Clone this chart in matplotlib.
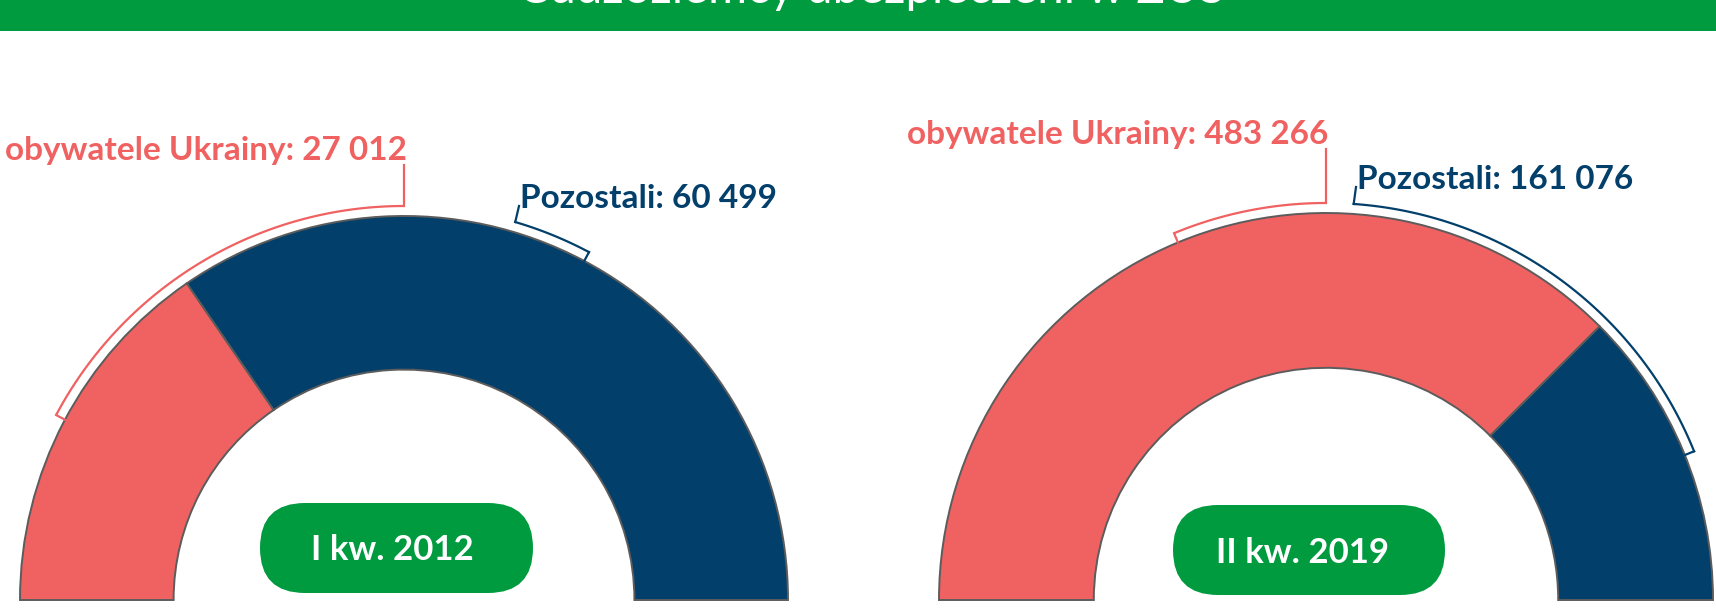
import numpy as np
import matplotlib.pyplot as plt
from matplotlib.patches import FancyBboxPatch, Rectangle

# data
periods = ["I kw. 2012", "II kw. 2019"]
ukraine = [27012, 483266]
others = [60499, 161076]
title = "Cudzoziemcy ubezpieczeni w ZUS"

red = "#F06161"
navy = "#023F6B"
green = "#009A3F"

W, H = 1716, 614
fig = plt.figure(figsize=(W / 100, H / 100), dpi=100)
ax = fig.add_axes([0, 0, 1, 1])

# layout (pixels, y up)
centers = [(404, 14), (1326, 14)]
radii = [384, 387]
red_arc = [(152, 90), (112.5, 90)]
blue_arc = [(73.6, 62), (86, 22)]
red_txt = [(405, 454), (1326, 470)]
blue_txt = [(520, 406), (1357, 425)]
pills = [(260, 21, 273, 90), (1173, 19, 272, 90)]
pill_txt = [(392, 64), (1302, 61)]


def pol(c, r, a):
    t = np.radians(a)
    return c[0] + r * np.cos(t), c[1] + r * np.sin(t)


for i in range(2):
    c, r = centers[i], radii[i]
    total = ukraine[i] + others[i]
    wedges, _ = ax.pie([ukraine[i], others[i], total], colors=[red, navy, "none"],
                       startangle=180, counterclock=False, radius=r, center=c,
                       wedgeprops=dict(width=0.4 * r, edgecolor="#5c5c5c", linewidth=1.4))
    wedges[2].set_visible(False)

    ra = r + 10
    # red bracket
    a0, a1 = red_arc[i]
    t = np.linspace(a0, a1, 100)
    x, y = pol(c, ra, t)
    ax.plot(x, y, color=red, lw=1.6, solid_capstyle="butt")
    x0, y0 = pol(c, ra, a0)
    x1, y1 = pol(c, r, a0)
    ax.plot([x0, x1], [y0, y1], color=red, lw=1.6)
    xe, ye = pol(c, ra, a1)
    tx, ty = red_txt[i]
    ax.plot([xe, xe], [ye, ty - 5], color=red, lw=1.6)
    ax.text(tx + 2, ty, f"obywatele Ukrainy: {ukraine[i]:,}".replace(",", " "),
            color=red, fontsize=24, fontweight="bold", family="Lato",
            ha="right", va="baseline")

    # blue bracket
    a0, a1 = blue_arc[i]
    t = np.linspace(a0, a1, 100)
    x, y = pol(c, ra, t)
    ax.plot(x, y, color=navy, lw=1.6)
    x0, y0 = pol(c, ra, a1)
    x1, y1 = pol(c, r, a1)
    ax.plot([x0, x1], [y0, y1], color=navy, lw=1.6)
    xs, ys = pol(c, ra, a0)
    tx, ty = blue_txt[i]
    ax.plot([xs, tx - 1], [ys, ty + 2], color=navy, lw=1.6)
    ax.text(tx, ty, f"Pozostali: {others[i]:,}".replace(",", " "),
            color=navy, fontsize=24, fontweight="bold", family="Lato",
            ha="left", va="baseline")

    # period pill
    px, py, pw, ph = pills[i]
    ax.add_patch(FancyBboxPatch((px, py), pw, ph,
                                boxstyle=f"round,pad=0,rounding_size={ph / 2}",
                                facecolor=green, edgecolor="none"))
    ax.text(*pill_txt[i], periods[i], color="white", fontsize=25,
            fontweight="bold", family="Lato", ha="center", va="center")

# top banner
ax.add_patch(Rectangle((0, H - 31), W, 31, facecolor=green, edgecolor="none"))
ax.text(871, H - 3, title, color="white", fontsize=34, fontweight="normal",
        family="Lato", ha="center", va="baseline")

ax.set_xlim(0, W)
ax.set_ylim(0, H)
ax.set_aspect("auto")
ax.axis("off")
fig.savefig("out.png", dpi=100)
